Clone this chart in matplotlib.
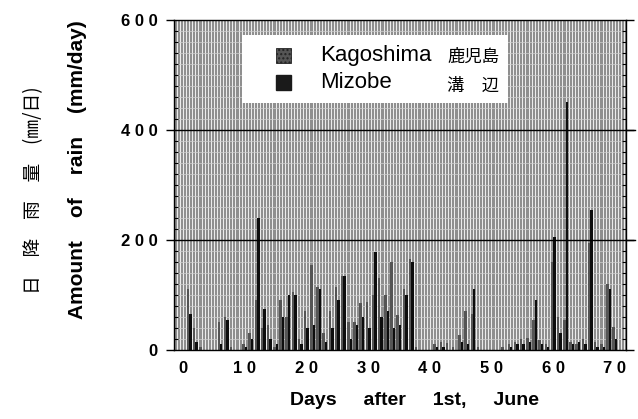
import numpy as np
import matplotlib
matplotlib.use("Agg")
import matplotlib.pyplot as plt
from matplotlib.patches import Rectangle

plt.rcParams['font.family'] = ['Liberation Sans', 'Noto Sans CJK JP', 'DejaVu Sans']

# daily rainfall (mm/day), days after 1st June
days = np.arange(1, 71)
kagoshima = [110, 40, 5, 0, 0, 50, 60, 5, 0, 10,
             30, 90, 40, 45, 5, 90, 60, 105, 20, 70,
             155, 115, 30, 70, 115, 135, 50, 50, 85, 88,
             100, 130, 100, 160, 64, 110, 165, 5, 0, 0,
             10, 15, 12, 5, 27, 70, 65, 5, 0, 0,
             0, 5, 10, 15, 20, 22, 55, 18, 10, 160,
             60, 55, 15, 10, 20, 195, 15, 10, 120, 42]
mizobe = [65, 15, 0, 0, 0, 10, 55, 0, 0, 5,
          20, 240, 75, 20, 10, 60, 100, 100, 10, 40,
          45, 110, 15, 40, 90, 135, 20, 45, 60, 40,
          178, 60, 70, 40, 45, 100, 160, 0, 0, 0,
          5, 5, 0, 0, 15, 10, 110, 0, 0, 0,
          0, 0, 5, 10, 10, 15, 90, 10, 5, 205,
          30, 450, 10, 15, 10, 255, 5, 5, 110, 20]

xticks = [0, 10, 20, 30, 40, 50, 60, 70]
yticks = [0, 200, 400, 600]

fig = plt.figure(figsize=(6.38, 4.19), dpi=100)
ax = fig.add_axes([0.2727, 0.1647, 0.7085, 0.7876])
ax.set_xlim(-1.46, 71.8)
ax.set_ylim(0, 600)

# scanned grid-like background
ax.set_facecolor('#8f8f8f')
ax.vlines(np.arange(-1.5, 72, 0.5), 0, 600, color='white', lw=0.6, zorder=0.5)
ax.hlines(np.arange(20, 600, 20), -1.5, 72, color='#d0d0d0', lw=0.5, zorder=0.6)

w = 0.4
ax.bar(days - w / 2, kagoshima, width=w, color='#555555', zorder=2)
ax.bar(days + w / 2, mizobe, width=w, color='#0d0d0d', zorder=2)

# black grid lines at 200 and 400 running past the right edge
for yv in (200, 400):
    ax.plot([-1.46, 73.2], [yv, yv], color='black', lw=1.0, zorder=3, clip_on=False)

ax.set_xticks(xticks)
ax.set_xticklabels([' '.join(str(v)) for v in xticks], fontsize=12, fontweight='bold')
ax.set_yticks(yticks)
ax.set_yticklabels([' '.join(str(v)) for v in yticks], fontsize=12, fontweight='bold')
ax.set_yticks(np.arange(0, 601, 20), minor=True)
ax.tick_params(axis='x', length=0, pad=8)
ax.tick_params(axis='y', which='major', direction='out', length=6, width=1, pad=6,
               right=True)
ax.tick_params(axis='y', which='minor', direction='in', length=3, width=0.8,
               right=True)
for s in ax.spines.values():
    s.set_linewidth(1.0)

fig.text(414 / 638, 1 - 400 / 419, 'Days     after     1st,     June', fontsize=14,
         fontweight='bold', ha='center', va='center')
fig.text(0.121, 0.594, 'Amount    of    rain    (mm/day)', rotation=90, fontsize=15,
         fontweight='bold', ha='center', va='center')
fig.text(0.052, 0.547, '日　降　雨　量　(㎜/日)', rotation=90, fontsize=13.5,
         ha='center', va='center', family=['Noto Sans CJK JP', 'DejaVu Sans'])

# legend box
fig.add_artist(Rectangle((242 / 638, 1 - 103 / 419), 266 / 638, 68 / 419,
                         transform=fig.transFigure, facecolor='white',
                         edgecolor='none', zorder=5))
fig.add_artist(Rectangle((276 / 638, 1 - 63 / 419), 15 / 638, 15 / 419,
                         transform=fig.transFigure, facecolor='#555555',
                         edgecolor='#222222', lw=0.6, hatch='....', zorder=6))
fig.add_artist(Rectangle((276 / 638, 1 - 90 / 419), 15 / 638, 15 / 419,
                         transform=fig.transFigure, facecolor='#1a1a1a',
                         edgecolor='#1a1a1a', zorder=6))
fig.text(320 / 638, 1 - 56 / 419, 'Kagoshima', fontsize=16, va='center', zorder=7)
fig.text(320 / 638, 1 - 82 / 419, 'Mizobe', fontsize=16, va='center', zorder=7)
fig.text(447 / 638, 1 - 57 / 419, '鹿児島', fontsize=12.5, va='center', zorder=7,
         family=['Noto Sans CJK JP'])
fig.text(447 / 638, 1 - 86 / 419, '溝　辺', fontsize=12.5, va='center', zorder=7,
         family=['Noto Sans CJK JP'])

fig.savefig('out.png', dpi=100)
